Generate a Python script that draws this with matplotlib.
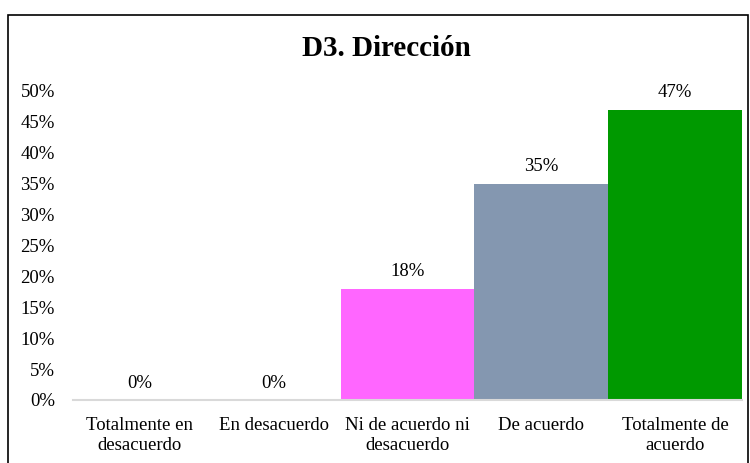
import matplotlib.pyplot as plt
import matplotlib as mpl
from matplotlib.patches import Rectangle
from matplotlib.ticker import PercentFormatter

mpl.rcParams['font.family'] = 'serif'
mpl.rcParams['font.serif'] = ['Liberation Serif', 'DejaVu Serif']

# survey answers for D3
categories = ['Totalmente en\ndesacuerdo', 'En desacuerdo', 'Ni de acuerdo ni\ndesacuerdo',
              'De acuerdo', 'Totalmente de\nacuerdo']
values = [0.0, 0.0, 0.18, 0.35, 0.47]
colors = ['#4472C4', '#ED7D31', '#FF66FF', '#8497B0', '#009900']

fig = plt.figure(figsize=(7.5, 4.63), dpi=100)
ax = fig.add_axes([0.0973, 0.1361, 0.892, 0.6674])

x = range(len(categories))
bars = ax.bar(x, values, width=1.0, color=colors)

for b, v in zip(bars, values):
    ax.annotate('{:.0f}%'.format(v * 100), (b.get_x() + b.get_width() / 2, v),
                xytext=(0, 6), textcoords='offset points',
                ha='center', va='bottom', fontsize=13.5)

ax.set_xlim(-0.5, len(categories) - 0.5)
ax.set_ylim(0, 0.5)
ax.set_yticks([i * 0.05 for i in range(11)])
ax.yaxis.set_major_formatter(PercentFormatter(1.0, decimals=0))
ax.set_xticks(list(x))
ax.set_xticklabels(categories, fontsize=13.5, linespacing=1.25)
ax.tick_params(axis='y', length=0, pad=13, labelsize=13.5)
ax.tick_params(axis='x', length=0, pad=12)

for s in ['top', 'right', 'left']:
    ax.spines[s].set_visible(False)
ax.spines['bottom'].set_color('#D9D9D9')
ax.spines['bottom'].set_linewidth(1.5)

fig.text(0.515, 0.895, 'D3. Dirección', ha='center', va='center',
         fontsize=21, fontweight='bold')

# chart frame (bottom edge runs off the image)
fig.patches.append(Rectangle((8 / 750, -0.1), 740 / 750, 1.1 - 15 / 463,
                             transform=fig.transFigure, fill=False,
                             edgecolor='black', linewidth=1.2))

fig.savefig('out.png', dpi=100)
